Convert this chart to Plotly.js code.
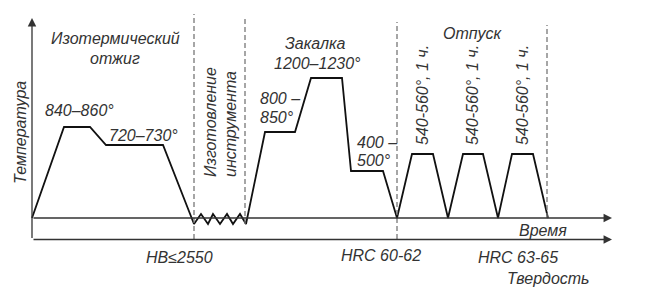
<!DOCTYPE html>
<html>
<head>
<meta charset="utf-8">
<script src="https://cdn.plot.ly/plotly-3.0.1.min.js"></script>
<style>html,body{margin:0;padding:0;background:#fff}#chart{width:646px;height:290px}</style>
</head>
<body>
<div id="chart"></div>
<script>
// Time (arbitrary units) and temperature level (arbitrary units) of the heat-treatment curve
const curveTime = [0, 32, 58, 74, 131, 162, 169, 176, 181, 188, 195, 201, 208, 214, 233, 263, 279, 310, 319, 351, 365, 380, 401, 416, 431, 451, 466, 480, 501, 516];
const curveTemp = [0, 91, 91, 73, 73, -6, 4, -6, 4, -6, 4, -6, 4, -6, 86, 86, 140, 140, 47, 47, 0, 64, 64, 0, 64, 64, 0, 64, 64, 0];

// Stage separators (dashed)
const stageTime = [162, 213, 365, 515];
const stageTop = [204, 201, 196, 193];
const stageBottom = [-21, -6, -21, 0];

// Axes extents
const axisOrigin = [0, 0];
const timeAxisEnd = 580;
const tempAxisTop = 200;
const hardnessLevel = -21.5;

// Text labels
const stageLabels = ['Изотермический', 'отжиг', 'Закалка', '1200–1230°', 'Отпуск'];
const tempLabels = ['840–860°', '720–730°'];
const stepLabels = ['800 –', '850°', '400 –', '500°'];
const verticalLabels = ['Изготовление', 'инструмента'];
const temperLabel = '540-560°, 1 ч.';
const hardnessLabels = ['HB≤2550', 'HRC 60-62', 'HRC 63-65'];
const axisTitles = ['Температура', 'Время', 'Твердость'];

const FONT = {family: 'Liberation Sans, Arial, sans-serif', size: 16, color: '#333'};
const traces = [];

traces.push({x: curveTime, y: curveTemp, mode: 'lines', type: 'scatter',
  line: {color: '#111', width: 1.8}, hoverinfo: 'skip', showlegend: false});

const dx = [], dy = [];
stageTime.forEach((t, i) => { dx.push(t, t, null); dy.push(stageBottom[i], stageTop[i], null); });
traces.push({x: dx, y: dy, mode: 'lines', type: 'scatter',
  line: {color: '#777', width: 1.3, dash: '5px,3px'}, hoverinfo: 'skip', showlegend: false});

const ann = [];
function arrow(x0, y0, x1, y1) {
  ann.push({x: x1, y: y1, ax: x0, ay: y0, xref: 'x', yref: 'y', axref: 'x', ayref: 'y',
    text: '', showarrow: true, arrowhead: 2, arrowsize: 1.3, arrowwidth: 1.3, arrowcolor: '#333', standoff: 0, startstandoff: 0});
}
arrow(axisOrigin[0], hardnessLevel, axisOrigin[0], tempAxisTop);
arrow(axisOrigin[0], axisOrigin[1], timeAxisEnd, axisOrigin[1]);
arrow(axisOrigin[0], hardnessLevel, timeAxisEnd, hardnessLevel);

function txt(text, x, y, opts) {
  ann.push(Object.assign({x: x, y: y, xref: 'x', yref: 'y', text: '<i>' + text + '</i>', showarrow: false,
    font: FONT, xanchor: 'center', yanchor: 'middle'}, opts || {}));
}
txt(stageLabels[0], 83, 180);
txt(stageLabels[1], 83, 160);
txt(stageLabels[2], 283, 175);
txt(stageLabels[3], 285, 155);
txt(stageLabels[4], 441, 185);
txt(tempLabels[0], 47, 108);
txt(tempLabels[1], 111, 83);
txt(stepLabels[0], 226, 120, {xanchor: 'left'});
txt(stepLabels[1], 226, 101, {xanchor: 'left'});
txt(stepLabels[2], 323, 76, {xanchor: 'left'});
txt(stepLabels[3], 323, 58, {xanchor: 'left'});
txt(verticalLabels[0], 178, 96, {textangle: -90});
txt(verticalLabels[1], 198, 94, {textangle: -90});
[390, 440, 490].forEach(x => txt(temperLabel, x, 123, {textangle: -90}));
txt(hardnessLabels[0], 147, -39);
txt(hardnessLabels[1], 349, -37);
txt(hardnessLabels[2], 486, -39);
txt(axisTitles[0], -12, 85, {textangle: -90});
txt(axisTitles[1], 511, -12);
txt(axisTitles[2], 516, -60);

const layout = {
  width: 646, height: 290,
  margin: {l: 0, r: 0, t: 0, b: 0},
  paper_bgcolor: '#fff', plot_bgcolor: '#fff',
  xaxis: {range: [-32, 614], visible: false, fixedrange: true},
  yaxis: {range: [-72, 218], visible: false, fixedrange: true},
  annotations: ann,
  showlegend: false
};
Plotly.newPlot('chart', traces, layout, {staticPlot: true});
</script>
</body>
</html>
